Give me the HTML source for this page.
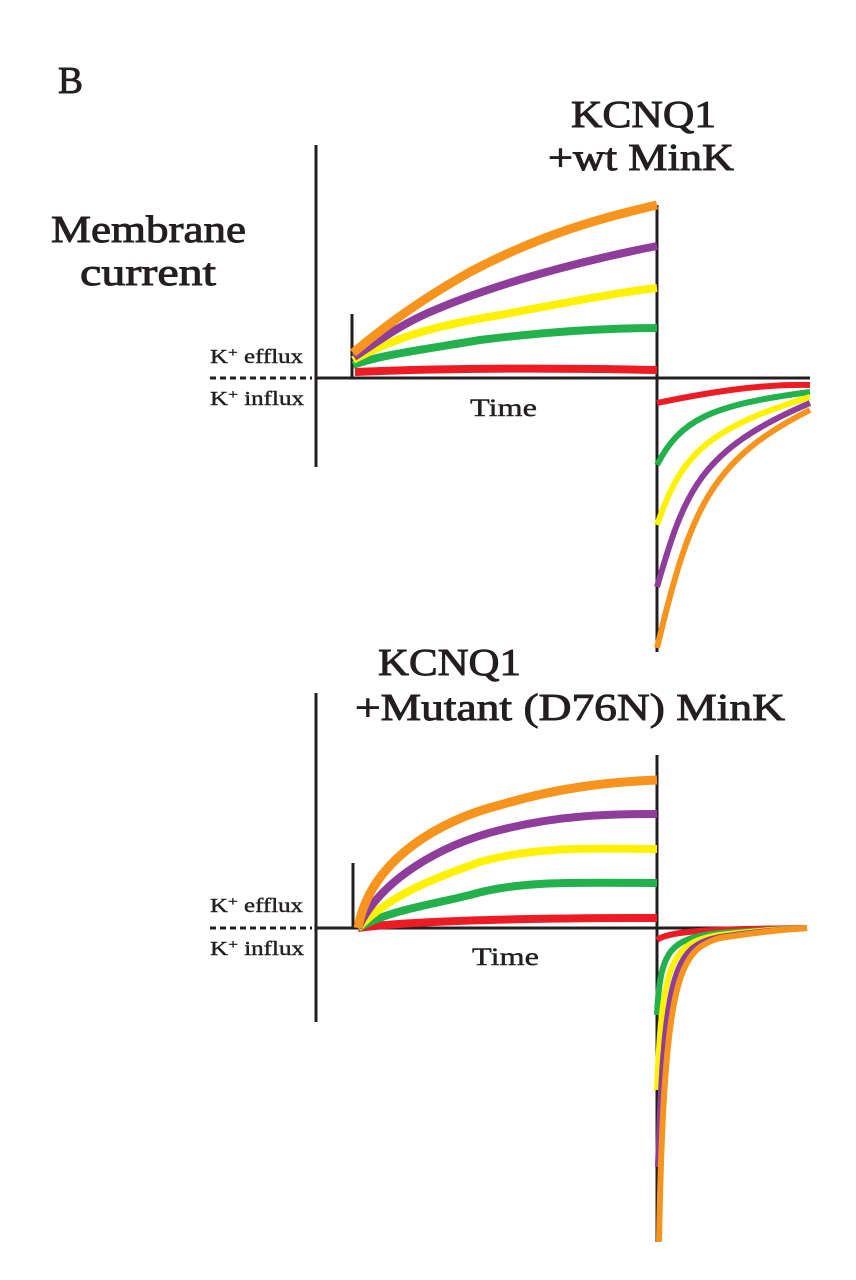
<!DOCTYPE html>
<html><head><meta charset="utf-8"><style>html,body{margin:0;padding:0;background:#fff}svg{display:block}</style></head>
<body>
<svg width="856" height="1280" viewBox="0 0 856 1280" xmlns="http://www.w3.org/2000/svg" font-family="'Liberation Serif', serif" fill="#231f20">
<g stroke="#231f20" stroke-width="0.9">
<text x="58" y="93" font-size="38" textLength="25" lengthAdjust="spacingAndGlyphs">B</text>
<text x="571" y="127" font-size="38" textLength="145" lengthAdjust="spacingAndGlyphs">KCNQ1</text>
<text x="548" y="170" font-size="38" textLength="186" lengthAdjust="spacingAndGlyphs">+wt MinK</text>
<text x="51" y="242" font-size="38" textLength="195" lengthAdjust="spacingAndGlyphs">Membrane</text>
<text x="80" y="285" font-size="38" textLength="136" lengthAdjust="spacingAndGlyphs">current</text>
<text x="378" y="675" font-size="38" textLength="143" lengthAdjust="spacingAndGlyphs">KCNQ1</text>
<text x="355" y="720" font-size="38" textLength="430" lengthAdjust="spacingAndGlyphs">+Mutant (D76N) MinK</text>
</g>
<g stroke="#231f20" stroke-width="0.4">
<text x="210" y="363" font-size="20" textLength="93" lengthAdjust="spacingAndGlyphs">K<tspan font-size="14" dy="-6">+</tspan><tspan dy="6"> efflux</tspan></text>
<text x="210" y="405" font-size="20" textLength="94" lengthAdjust="spacingAndGlyphs">K<tspan font-size="14" dy="-6">+</tspan><tspan dy="6"> influx</tspan></text>
<text x="470" y="416" font-size="25" textLength="67" lengthAdjust="spacingAndGlyphs">Time</text>
<text x="210" y="912" font-size="20" textLength="93" lengthAdjust="spacingAndGlyphs">K<tspan font-size="14" dy="-6">+</tspan><tspan dy="6"> efflux</tspan></text>
<text x="210" y="955" font-size="20" textLength="94" lengthAdjust="spacingAndGlyphs">K<tspan font-size="14" dy="-6">+</tspan><tspan dy="6"> influx</tspan></text>
<text x="472" y="965" font-size="25" textLength="67" lengthAdjust="spacingAndGlyphs">Time</text>
</g>

<g stroke="#231f20" stroke-width="3" fill="none">
<line x1="316" y1="145" x2="316" y2="467"/>
<line x1="316" y1="378" x2="810" y2="378"/>
<line x1="352" y1="314" x2="352" y2="378"/>
<line x1="657" y1="205" x2="657" y2="652"/>
<line x1="210" y1="378" x2="312" y2="378" stroke-dasharray="6 4"/>
</g>
<g fill="none" stroke-width="8">
<path d="M355 372 C450 368 560 368 657 370" stroke="#ed1c24"/>
<path d="M353 365 C380 355 420 350 480 340 C560 330 620 328 657 328" stroke="#22b14c"/>
<path d="M353 360 C400 335 440 325 500 315 C570 302 620 292 657 288" stroke="#fff200"/>
<path d="M354 357 C380 340 400 325 430 312 C480 290 560 265 657 246" stroke="#8e3d9b"/>
<path d="M353 353 C380 330 420 300 470 272 C540 235 600 218 657 205" stroke="#f7941d" stroke-width="9"/>
</g>
<g fill="none" stroke-width="6">
<path d="M657 403 C710 392 760 384 810 385" stroke="#ed1c24"/>
<path d="M657 465 C680 420 710 405 810 392" stroke="#22b14c"/>
<path d="M657 525 C680 460 700 430 810 397" stroke="#fff200"/>
<path d="M657 587 C685 490 700 450 810 403" stroke="#8e3d9b"/>
<path d="M657 648 C690 510 710 460 810 410" stroke="#f7941d"/>
</g>

<g stroke="#231f20" stroke-width="3" fill="none">
<line x1="316" y1="693" x2="316" y2="1022"/>
<line x1="316" y1="928" x2="807" y2="928"/>
<line x1="353" y1="863" x2="353" y2="928"/>
<line x1="657" y1="755" x2="657" y2="1242"/>
<line x1="210" y1="928" x2="312" y2="928" stroke-dasharray="6 4"/>
</g>
<g fill="none" stroke-width="8">
<path d="M358 928 C400 922 500 918 657 918" stroke="#ed1c24"/>
<path d="M358 928 C390 910 430 905 470 895 C520 880 580 883 657 883" stroke="#22b14c"/>
<path d="M358 928 C390 895 430 880 480 862 C540 845 600 849 657 849" stroke="#fff200"/>
<path d="M358 928 C380 880 440 845 500 830 C560 815 610 814 657 814" stroke="#8e3d9b"/>
<path d="M358 928 C370 860 440 820 500 805 C560 787 610 782 657 780" stroke="#f7941d" stroke-width="9"/>
</g>
<g fill="none" stroke-width="6">
<path d="M657 940 C670 930 720 929 807 928" stroke="#ed1c24"/>
<path d="M657 1015 C660 950 670 938 720 933 C760 930 790 929 807 928" stroke="#22b14c"/>
<path d="M657 1090 C662 960 672 942 720 935 C760 930 790 929 807 928" stroke="#fff200"/>
<path d="M658 1167 C664 965 676 946 720 937 C760 931 790 929 807 928" stroke="#8e3d9b"/>
<path d="M659 1242 C664 970 680 950 720 938 C760 932 790 929 807 928" stroke="#f7941d"/>
</g>
</svg>
</body></html>
